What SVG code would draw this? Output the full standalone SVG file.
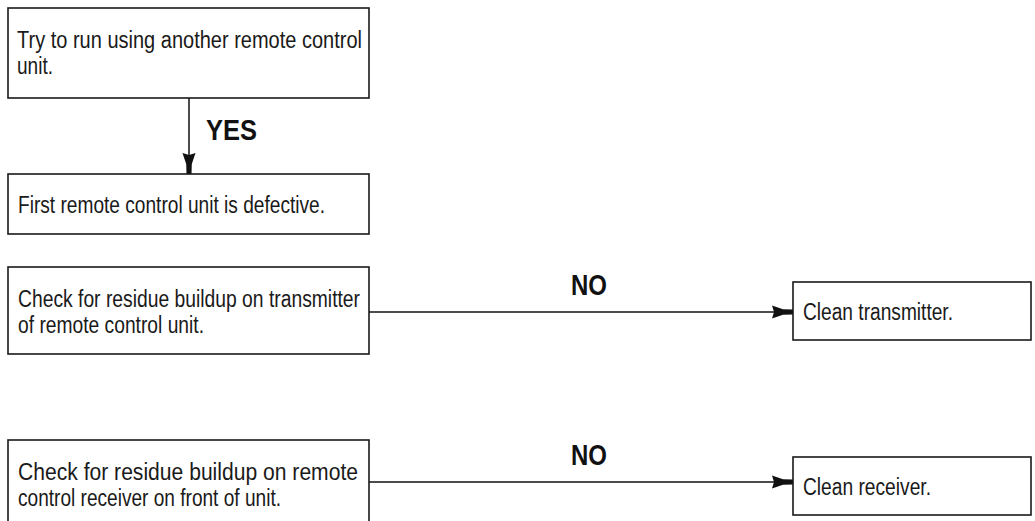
<svg xmlns="http://www.w3.org/2000/svg" width="1035" height="521" viewBox="0 0 1035 521">
  <style>
    .box { fill: #ffffff; stroke: #1a1a1a; stroke-width: 1.6; }
    .t { font-family: "Liberation Sans", Arial, sans-serif; font-size: 23px; fill: #1a1a1a; }
    .lbl { font-family: "Liberation Sans", Arial, sans-serif; font-size: 29px; font-weight: bold; fill: #111; }
    .edge { fill: none; stroke: #111; stroke-width: 1.5; }
  </style>
  <defs>
    <marker id="arr" markerUnits="userSpaceOnUse" markerWidth="24" markerHeight="18" viewBox="0 -9 24 18" refX="21" refY="0" orient="auto">
      <path d="M0,-6.5 L11,-2.8 L21,-2.5 L21,2.5 L11,2.8 L0,6.5 L2,0 Z" fill="#111"/>
    </marker>
  </defs>
  <rect width="1035" height="521" fill="#ffffff"/>

  <g id="connectors">
    <line class="edge" x1="189" y1="98" x2="189" y2="174" marker-end="url(#arr)"/>
    <line class="edge" x1="369" y1="312" x2="793" y2="312" marker-end="url(#arr)"/>
    <line class="edge" x1="369" y1="482" x2="793" y2="482" marker-end="url(#arr)"/>
    <text class="lbl" x="206" y="140" textLength="51" lengthAdjust="spacingAndGlyphs">YES</text>
    <text class="lbl" x="571" y="295" textLength="36" lengthAdjust="spacingAndGlyphs">NO</text>
    <text class="lbl" x="571" y="465" textLength="36" lengthAdjust="spacingAndGlyphs">NO</text>
  </g>

  <g id="n1">
    <rect class="box" x="8" y="8" width="361" height="90"/>
    <text class="t" x="17" y="48" textLength="345" lengthAdjust="spacingAndGlyphs">Try to run using another remote control</text>
    <text class="t" x="17" y="74" textLength="36" lengthAdjust="spacingAndGlyphs">unit.</text>
  </g>

  <g id="n2">
    <rect class="box" x="8" y="174" width="361" height="60"/>
    <text class="t" x="18" y="213" textLength="307" lengthAdjust="spacingAndGlyphs">First remote control unit is defective.</text>
  </g>

  <g id="n3">
    <rect class="box" x="8" y="267" width="361" height="87"/>
    <text class="t" x="18" y="307" textLength="342" lengthAdjust="spacingAndGlyphs">Check for residue buildup on transmitter</text>
    <text class="t" x="18" y="333" textLength="186" lengthAdjust="spacingAndGlyphs">of remote control unit.</text>
  </g>

  <g id="n4">
    <rect class="box" x="8" y="440" width="361" height="100"/>
    <text class="t" x="18" y="480" textLength="340" lengthAdjust="spacingAndGlyphs">Check for residue buildup on remote</text>
    <text class="t" x="18" y="506" textLength="263" lengthAdjust="spacingAndGlyphs">control receiver on front of unit.</text>
  </g>

  <g id="n5">
    <rect class="box" x="793" y="282" width="238" height="58"/>
    <text class="t" x="803" y="320" textLength="150" lengthAdjust="spacingAndGlyphs">Clean transmitter.</text>
  </g>

  <g id="n6">
    <rect class="box" x="793" y="457" width="238" height="58"/>
    <text class="t" x="803" y="495" textLength="128" lengthAdjust="spacingAndGlyphs">Clean receiver.</text>
  </g>
</svg>
